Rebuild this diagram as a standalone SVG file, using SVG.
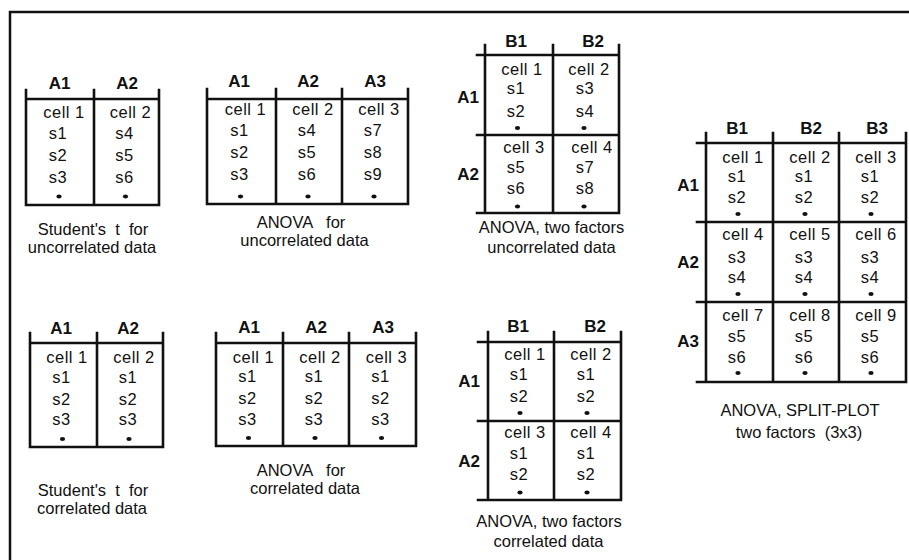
<svg xmlns="http://www.w3.org/2000/svg" width="909" height="560" viewBox="0 0 909 560" xml:space="preserve">
<style>
text{font-family:"Liberation Sans",Arial,Helvetica,sans-serif;fill:#111;text-anchor:middle;white-space:pre}
.h{font-size:17px;font-weight:bold}
.c{font-size:16.5px;letter-spacing:0.5px}
.cap{font-size:16.5px}
.ln{fill:none;stroke:#111;stroke-width:2.6;stroke-linecap:square}
.frame{fill:none;stroke:#111;stroke-width:2.5}
</style>
<defs>
<ellipse id="dot" cx="0" cy="0" rx="2.6" ry="2" fill="#111"/>
</defs>
<rect width="909" height="560" fill="#fff"/>
<path class="frame" d="M10,562 V12 H912"/>

<!-- Table 1 -->
<g id="t1">
<path class="ln" d="M26,90 V205 H159 V90 M94,90 V205 M26,99 H159"/>
<text class="h" x="59.5" y="89">A1</text><text class="h" x="127" y="89">A2</text>
<text class="c" x="64" y="117.5">cell 1</text><text class="c" x="130.5" y="117.5">cell 2</text>
<text class="c" x="58" y="139">s1</text><text class="c" x="58" y="161">s2</text><text class="c" x="58" y="182.5">s3</text>
<text class="c" x="124.5" y="139">s4</text><text class="c" x="124.5" y="161">s5</text><text class="c" x="124.5" y="182.5">s6</text>
<use href="#dot" x="59" y="196.5"/><use href="#dot" x="125.5" y="196.5"/>
<text class="cap" x="93" y="235">Student's  t  for</text>
<text class="cap" x="92" y="253">uncorrelated data</text>
</g>

<!-- Table 2 -->
<g id="t2">
<path class="ln" d="M207,89 V204 H408 V89 M276,89 V204 M342,89 V204 M207,99 H408"/>
<text class="h" x="239" y="87">A1</text><text class="h" x="308" y="87">A2</text><text class="h" x="375" y="87">A3</text>
<text class="c" x="245.5" y="115">cell 1</text><text class="c" x="313" y="115">cell 2</text><text class="c" x="379" y="115">cell 3</text>
<text class="c" x="239.5" y="136">s1</text><text class="c" x="239.5" y="158">s2</text><text class="c" x="239.5" y="180">s3</text>
<text class="c" x="307" y="136">s4</text><text class="c" x="307" y="158">s5</text><text class="c" x="307" y="180">s6</text>
<text class="c" x="373" y="136">s7</text><text class="c" x="373" y="158">s8</text><text class="c" x="373" y="180">s9</text>
<use href="#dot" x="240.5" y="196.5"/><use href="#dot" x="308" y="196.5"/><use href="#dot" x="374" y="196.5"/>
<text class="cap" x="301" y="228">ANOVA   for</text>
<text class="cap" x="304.5" y="246">uncorrelated data</text>
</g>

<!-- Table 3 -->
<g id="t3">
<path class="ln" d="M485,45 V213 M553,45 V213 M619,45 V213 M477,55 H619 M477,135 H619 M477,213 H619"/>
<text class="h" x="516" y="47">B1</text><text class="h" x="593" y="47">B2</text>
<text class="h" x="468" y="103">A1</text><text class="h" x="468" y="180">A2</text>
<text class="c" x="522" y="75">cell 1</text><text class="c" x="589" y="75">cell 2</text>
<text class="c" x="516" y="94">s1</text><text class="c" x="516" y="116.5">s2</text>
<text class="c" x="585" y="94">s3</text><text class="c" x="585" y="116.5">s4</text>
<use href="#dot" x="517.5" y="128"/><use href="#dot" x="584" y="128"/>
<text class="c" x="524" y="152.5">cell 3</text><text class="c" x="592" y="152.5">cell 4</text>
<text class="c" x="516" y="173">s5</text><text class="c" x="516" y="194">s6</text>
<text class="c" x="585" y="173">s7</text><text class="c" x="585" y="194">s8</text>
<use href="#dot" x="517.5" y="206.5"/><use href="#dot" x="584" y="206.5"/>
<text class="cap" x="551.5" y="233">ANOVA, two factors</text>
<text class="cap" x="551.5" y="253">uncorrelated data</text>
</g>

<!-- Table 4 -->
<g id="t4">
<path class="ln" d="M706,133 V382 M773,133 V382 M839,133 V382 M906,133 V382 M697,143 H906 M697,222 H906 M697,302 H906 M697,382 H906"/>
<text class="h" x="737" y="134">B1</text><text class="h" x="811" y="134">B2</text><text class="h" x="877" y="134">B3</text>
<text class="h" x="688" y="191">A1</text><text class="h" x="688" y="268">A2</text><text class="h" x="688" y="347">A3</text>
<text class="c" x="743" y="162.5">cell 1</text><text class="c" x="810" y="162.5">cell 2</text><text class="c" x="876" y="162.5">cell 3</text>
<text class="c" x="737" y="181.5">s1</text><text class="c" x="804" y="181.5">s1</text><text class="c" x="870" y="181.5">s1</text>
<text class="c" x="737" y="202.5">s2</text><text class="c" x="804" y="202.5">s2</text><text class="c" x="870" y="202.5">s2</text>
<use href="#dot" x="738" y="214"/><use href="#dot" x="805" y="214"/><use href="#dot" x="871" y="214"/>
<text class="c" x="743" y="240">cell 4</text><text class="c" x="810" y="240">cell 5</text><text class="c" x="876" y="240">cell 6</text>
<text class="c" x="737" y="263">s3</text><text class="c" x="804" y="263">s3</text><text class="c" x="870" y="263">s3</text>
<text class="c" x="737" y="282.5">s4</text><text class="c" x="804" y="282.5">s4</text><text class="c" x="870" y="282.5">s4</text>
<use href="#dot" x="738" y="294"/><use href="#dot" x="805" y="294"/><use href="#dot" x="871" y="294"/>
<text class="c" x="743" y="320.5">cell 7</text><text class="c" x="810" y="320.5">cell 8</text><text class="c" x="876" y="320.5">cell 9</text>
<text class="c" x="737" y="341.5">s5</text><text class="c" x="804" y="341.5">s5</text><text class="c" x="870" y="341.5">s5</text>
<text class="c" x="737" y="363">s6</text><text class="c" x="804" y="363">s6</text><text class="c" x="870" y="363">s6</text>
<use href="#dot" x="738" y="373"/><use href="#dot" x="805" y="373"/><use href="#dot" x="871" y="373"/>
<text class="cap" x="800" y="416">ANOVA, SPLIT-PLOT</text>
<text class="cap" x="799" y="438">two factors  (3x3)</text>
</g>

<!-- Table 5 -->
<g id="t5">
<path class="ln" d="M30,333 V447 H163 V333 M97,333 V447 M30,343 H163"/>
<text class="h" x="61" y="334">A1</text><text class="h" x="128" y="334">A2</text>
<text class="c" x="67" y="363">cell 1</text><text class="c" x="134" y="363">cell 2</text>
<text class="c" x="61.5" y="383">s1</text><text class="c" x="61.5" y="405">s2</text><text class="c" x="61.5" y="425">s3</text>
<text class="c" x="128" y="383">s1</text><text class="c" x="128" y="405">s2</text><text class="c" x="128" y="425">s3</text>
<use href="#dot" x="62.5" y="439"/><use href="#dot" x="129" y="439"/>
<text class="cap" x="93" y="496">Student's  t  for</text>
<text class="cap" x="92" y="514">correlated data</text>
</g>

<!-- Table 6 -->
<g id="t6">
<path class="ln" d="M216,333 V446 H416 V333 M283,333 V446 M349,333 V446 M216,343 H416"/>
<text class="h" x="249" y="333">A1</text><text class="h" x="316" y="333">A2</text><text class="h" x="383" y="333">A3</text>
<text class="c" x="253.5" y="363">cell 1</text><text class="c" x="320" y="363">cell 2</text><text class="c" x="386.5" y="363">cell 3</text>
<text class="c" x="247.5" y="382">s1</text><text class="c" x="247.5" y="403.5">s2</text><text class="c" x="247.5" y="424.5">s3</text>
<text class="c" x="314" y="382">s1</text><text class="c" x="314" y="403.5">s2</text><text class="c" x="314" y="424.5">s3</text>
<text class="c" x="380.5" y="382">s1</text><text class="c" x="380.5" y="403.5">s2</text><text class="c" x="380.5" y="424.5">s3</text>
<use href="#dot" x="248.5" y="438"/><use href="#dot" x="315" y="438"/><use href="#dot" x="381.5" y="438"/>
<text class="cap" x="301" y="476">ANOVA   for</text>
<text class="cap" x="305" y="494">correlated data</text>
</g>

<!-- Table 7 -->
<g id="t7">
<path class="ln" d="M488,332 V500 M554,332 V500 M621,332 V500 M478,342 H621 M478,421 H621 M478,500 H621"/>
<text class="h" x="518" y="332">B1</text><text class="h" x="595" y="332">B2</text>
<text class="h" x="469" y="387">A1</text><text class="h" x="469" y="467">A2</text>
<text class="c" x="525" y="360">cell 1</text><text class="c" x="591" y="360">cell 2</text>
<text class="c" x="519" y="380">s1</text><text class="c" x="519" y="401.5">s2</text>
<text class="c" x="586" y="380">s1</text><text class="c" x="586" y="401.5">s2</text>
<use href="#dot" x="520" y="413"/><use href="#dot" x="587" y="413"/>
<text class="c" x="525" y="438">cell 3</text><text class="c" x="591" y="438">cell 4</text>
<text class="c" x="519" y="459">s1</text><text class="c" x="519" y="480">s2</text>
<text class="c" x="586" y="459">s1</text><text class="c" x="586" y="480">s2</text>
<use href="#dot" x="520" y="492.5"/><use href="#dot" x="587" y="492.5"/>
<text class="cap" x="549" y="527">ANOVA, two factors</text>
<text class="cap" x="548.5" y="547">correlated data</text>
</g>
</svg>
